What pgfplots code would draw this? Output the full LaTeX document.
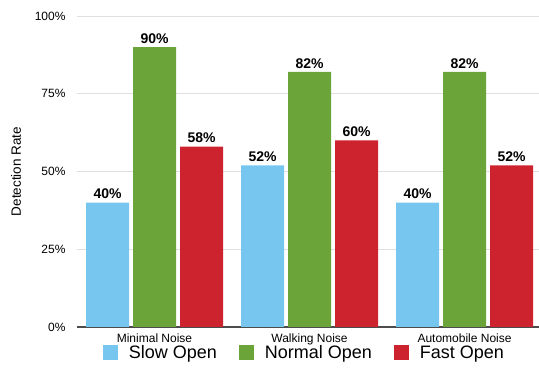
\documentclass[border=0pt]{standalone}
\usepackage{fontspec}
\setmainfont{Liberation Sans}
\usepackage{pgfplots}
\pgfplotsset{compat=1.18}
\definecolor{cslow}{HTML}{76C6F0}
\definecolor{cnormal}{HTML}{6BA53A}
\definecolor{cfast}{HTML}{CC232E}
\begin{document}
\begin{tikzpicture}
\begin{axis}[
  scale only axis, width=462pt, height=311pt,
  ybar=4pt, bar width=43pt,
  xmin=-0.5, xmax=2.48, ymin=0, ymax=100,
  xtick={0,1,2}, xticklabels={Minimal Noise, Walking Noise, Automobile Noise},
  ytick={0,25,50,75,100},
  /pgf/number format/assume math mode=true,
  yticklabel={\pgfmathprintnumber{\tick}\%},
  ymajorgrids, grid style={black!12, line width=0.6pt},
  axis x line*=bottom, axis y line*=left,
  y axis line style={draw=none},
  x axis line style={draw=black!70, line width=1.3pt, -},
  major tick length=0pt,
  tick label style={font=\fontsize{12}{12}\selectfont},
  yticklabel style={xshift=-8pt},
  xticklabel style={yshift=-3pt},
  ylabel={Detection Rate},
  every axis y label/.style={at={(axis description cs:-0.132,0.5)}, anchor=center, rotate=90, font=\fontsize{13.5}{13.5}\selectfont},
  nodes near coords={\pgfmathprintnumber{\pgfplotspointmeta}\%},
  nodes near coords style={font=\bfseries\fontsize{14}{14}\selectfont, black},
  legend style={at={(0.502,-0.082)}, anchor=center, legend columns=3, draw=none, fill=none,
    font=\fontsize{18}{18}\selectfont,
    nodes={inner xsep=11pt},
    /tikz/every even column/.append style={column sep=11pt}},
  legend image code/.code={\fill[#1] (0pt,-7.5pt) rectangle (15pt,7.5pt);},
]
\addplot[fill=cslow, draw=none] coordinates {(0,40) (1,52) (2,40)};
\addplot[fill=cnormal, draw=none] coordinates {(0,90) (1,82) (2,82)};
\addplot[fill=cfast, draw=none] coordinates {(0,58) (1,60) (2,52)};
\legend{Slow Open, Normal Open, Fast Open}
\end{axis}
\pgfresetboundingbox
\path[use as bounding box] (-77pt,-45pt) rectangle (462pt,327pt);
\end{tikzpicture}
\end{document}
